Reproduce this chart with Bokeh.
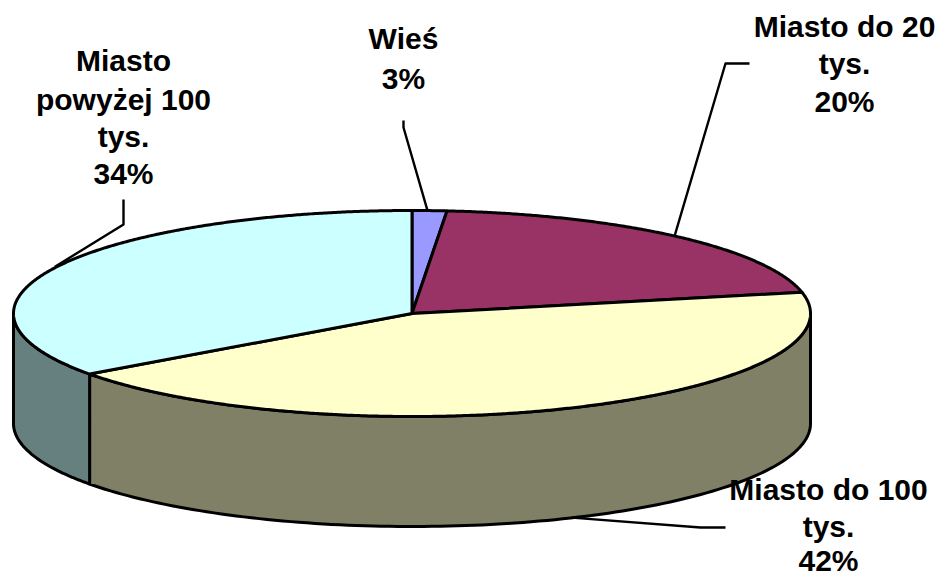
import numpy as np
from bokeh.plotting import figure
from bokeh.embed import file_html
from bokeh.resources import INLINE
from bokeh.core.properties import value

# Data
categories = ["Wieś", "Miasto do 20 tys.", "Miasto do 100 tys.", "Miasto powyżej 100 tys."]
printed_percent = ["3%", "20%", "42%", "34%"]
drawn_shares = [1.4, 20.3, 43.3, 35.0]   # slice shares

# Colours
top_colors = ["#9999FF", "#993366", "#FFFFCC", "#CCFFFF"]
side_colors = ["#666699", "#662244", "#808066", "#668080"]

# Pie geometry (page pixels)
CX, CY, RX, RY, DEPTH = 411.5, 313.0, 398.5, 103.0, 110.0
LW = 3
FS = "30px"

W, H = 936, 576
p = figure(width=W, height=H, x_range=(0, W), y_range=(H, 0),
           toolbar_location=None, output_backend="svg", min_border=0,
           outline_line_color=None, background_fill_color="white",
           border_fill_color="white")
p.axis.visible = False
p.grid.visible = False


def rim(t_deg, dy=0.0):
    t = np.radians(t_deg)
    return CX + RX * np.sin(t), CY - RY * np.cos(t) + dy


edges = np.concatenate([[0], np.cumsum(drawn_shares)]) / sum(drawn_shares) * 360.0
mids = (edges[:-1] + edges[1:]) / 2

# Side walls: only the front half of the rim (90..270 degrees) is visible
for a, b, c in zip(edges[:-1], edges[1:], side_colors):
    lo, hi = max(a, 90), min(b, 270)
    if hi <= lo:
        continue
    ts = np.linspace(lo, hi, 120)
    x1, y1 = rim(ts)
    x2, y2 = rim(ts[::-1], DEPTH)
    p.patch(np.r_[x1, x2], np.r_[y1, y2], fill_color=c, line_color="black",
            line_width=LW, line_join="round")

# Top faces
for a, b, c in zip(edges[:-1], edges[1:], top_colors):
    ts = np.linspace(a, b, max(int(b - a) * 3, 12))
    x, y = rim(ts)
    p.patch(np.r_[CX, x], np.r_[CY, y], fill_color=c, line_color="black",
            line_width=LW, line_join="round")

# Leader lines: from rim at the slice's mid angle to an elbow near the label
leader_elbows = [
    ([403, 403], [127, 120]),
    ([725, 749], [63, 63]),
    ([700, 725], [527, 527]),
    ([123, 123], [224, 199]),
]
for i, (ex, ey) in enumerate(leader_elbows):
    ax, ay = rim(mids[i], DEPTH if 90 < mids[i] < 270 else 0)
    p.line([ax - 2] + ex, [ay] + ey, line_color="black", line_width=2.4, line_join="round")

# Labels
label_lines = [
    ["Wieś", printed_percent[0]],
    ["Miasto do 20", "tys.", printed_percent[1]],
    ["Miasto do 100", "tys.", printed_percent[2]],
    ["Miasto", "powyżej 100", "tys.", printed_percent[3]],
]
label_x = [403, 844, 828, 123]
label_rows = [
    [38, 78],
    [26, 63, 101],
    [489, 526, 560],
    [60, 99, 136, 173],
]
for lines, lx, rows in zip(label_lines, label_x, label_rows):
    p.text([lx] * len(lines), rows, text=lines,
           text_font=value("Liberation Sans"), text_font_style="bold",
           text_font_size=FS, text_color="black",
           text_align="center", text_baseline="middle")

open("out.html", "w").write(file_html(p, INLINE))
